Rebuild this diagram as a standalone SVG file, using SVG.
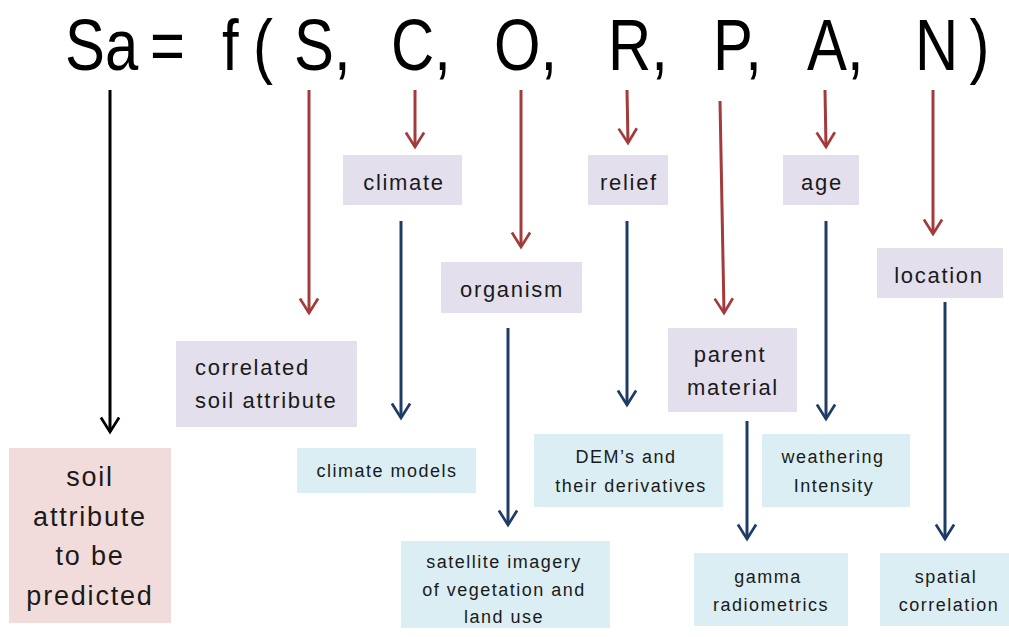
<svg xmlns="http://www.w3.org/2000/svg" width="1009" height="637" viewBox="0 0 1009 637">
<style>
  text { font-family: "Liberation Sans", Arial, sans-serif; fill: #1a1a1a; }
  .title { font-size: 73px; fill: #000; }
  .lbl { font-size: 22px; letter-spacing: 1.7px; }
  .sm { font-size: 18px; letter-spacing: 1.5px; }
  .big { font-size: 27px; letter-spacing: 1.8px; text-anchor: middle; }
  .c { text-anchor: middle; }
  .purple { fill: #E4DFEC; }
  .blue { fill: #DAEEF3; }
  .pink { fill: #F2DCDB; }
  .red { stroke: #A23B3B; stroke-width: 3; fill: none; marker-end: url(#ahRed); }
  .navy { stroke: #1F3C66; stroke-width: 3; fill: none; marker-end: url(#ahBlue); }
  .blk { stroke: #000; stroke-width: 3; fill: none; marker-end: url(#ahBlack); }
</style>
<defs>
  <marker id="ahRed" markerUnits="userSpaceOnUse" orient="auto" refX="0" refY="0" markerWidth="20" markerHeight="24" viewBox="-20 -12 22 24" overflow="visible">
    <path d="M -16 -10 L 0 0 L -16 10" fill="none" stroke="#A23B3B" stroke-width="3"/>
  </marker>
  <marker id="ahBlue" markerUnits="userSpaceOnUse" orient="auto" refX="0" refY="0" markerWidth="20" markerHeight="24" viewBox="-20 -12 22 24" overflow="visible">
    <path d="M -16 -10 L 0 0 L -16 10" fill="none" stroke="#1F3C66" stroke-width="3"/>
  </marker>
  <marker id="ahBlack" markerUnits="userSpaceOnUse" orient="auto" refX="0" refY="0" markerWidth="20" markerHeight="24" viewBox="-20 -12 22 24" overflow="visible">
    <path d="M -16 -10 L 0 0 L -16 10" fill="none" stroke="#000" stroke-width="3"/>
  </marker>
</defs>

<g id="title">
  <text class="title" transform="scale(0.82 1)" y="70"><tspan x="79.3">Sa</tspan><tspan x="182.9">=</tspan><tspan x="270.7">f</tspan><tspan x="308.5">(</tspan><tspan x="358.5">S,</tspan><tspan x="476.8">C,</tspan><tspan x="602.4">O,</tspan><tspan x="741.5">R,</tspan><tspan x="869.5">P,</tspan><tspan x="984.1">A,</tspan><tspan x="1115.9">N</tspan><tspan x="1194.5" text-anchor="middle">)</tspan></text>
</g>

<g id="connectors">
  <line class="blk" x1="110" y1="90" x2="110" y2="432"/>
  <line class="red" x1="309" y1="90" x2="309" y2="313"/>
  <line class="red" x1="415" y1="90" x2="415" y2="147"/>
  <line class="red" x1="521" y1="90" x2="521" y2="247"/>
  <line class="red" x1="627" y1="90" x2="628" y2="143"/>
  <line class="red" x1="720" y1="101" x2="724" y2="313"/>
  <line class="red" x1="825" y1="90" x2="826" y2="147"/>
  <line class="red" x1="933" y1="90" x2="933" y2="234"/>
  <line class="navy" x1="401" y1="221" x2="401" y2="418"/>
  <line class="navy" x1="508" y1="328" x2="508" y2="525"/>
  <line class="navy" x1="627" y1="221" x2="627" y2="405"/>
  <line class="navy" x1="747" y1="421" x2="747" y2="539"/>
  <line class="navy" x1="826" y1="221" x2="826" y2="419"/>
  <line class="navy" x1="945" y1="302" x2="945" y2="539"/>
</g>

<g id="soil-attribute">
  <rect class="pink" x="9" y="448" width="162" height="175"/>
  <text class="big" y="486"><tspan x="90">soil</tspan><tspan x="90" y="526">attribute</tspan><tspan x="90" y="565">to be</tspan><tspan x="90" y="605">predicted</tspan></text>
</g>

<g id="correlated">
  <rect class="purple" x="176" y="341" width="181" height="86"/>
  <text class="lbl" x="195" y="375">correlated</text>
  <text class="lbl" x="195" y="408">soil attribute</text>
</g>

<g id="climate">
  <rect class="purple" x="343" y="155" width="119" height="50"/>
  <text class="lbl c" x="404" y="190">climate</text>
</g>

<g id="organism">
  <rect class="purple" x="441" y="262" width="141" height="51"/>
  <text class="lbl c" x="512" y="297">organism</text>
</g>

<g id="relief">
  <rect class="purple" x="588" y="155" width="80" height="50"/>
  <text class="lbl c" x="629" y="190">relief</text>
</g>

<g id="parent-material">
  <rect class="purple" x="668" y="328" width="129" height="84"/>
  <text class="lbl c" x="730" y="362">parent</text>
  <text class="lbl c" x="733" y="395">material</text>
</g>

<g id="age">
  <rect class="purple" x="783" y="155" width="76" height="50"/>
  <text class="lbl c" x="822" y="190">age</text>
</g>

<g id="location">
  <rect class="purple" x="877" y="248" width="126" height="50"/>
  <text class="lbl c" x="939" y="283">location</text>
</g>

<g id="climate-models">
  <rect class="blue" x="297" y="448" width="179" height="45"/>
  <text class="sm c" x="387" y="477">climate models</text>
</g>

<g id="satellite">
  <rect class="blue" x="401" y="541" width="209" height="87"/>
  <text class="sm c" x="504" y="568">satellite imagery</text>
  <text class="sm c" x="504" y="596">of vegetation and</text>
  <text class="sm c" x="504" y="623">land use</text>
</g>

<g id="dems">
  <rect class="blue" x="534" y="434" width="189" height="73"/>
  <text class="sm c" x="626" y="463">DEM’s and</text>
  <text class="sm c" x="631" y="492">their derivatives</text>
</g>

<g id="weathering">
  <rect class="blue" x="762" y="434" width="148" height="73"/>
  <text class="sm c" x="833" y="463">weathering</text>
  <text class="sm c" x="834" y="492">Intensity</text>
</g>

<g id="gamma">
  <rect class="blue" x="694" y="553" width="154" height="73"/>
  <text class="sm c" x="768" y="583">gamma</text>
  <text class="sm c" x="771" y="611">radiometrics</text>
</g>

<g id="spatial">
  <rect class="blue" x="880" y="553" width="129" height="73"/>
  <text class="sm c" x="946" y="583">spatial</text>
  <text class="sm c" x="949" y="611">correlation</text>
</g>
</svg>
